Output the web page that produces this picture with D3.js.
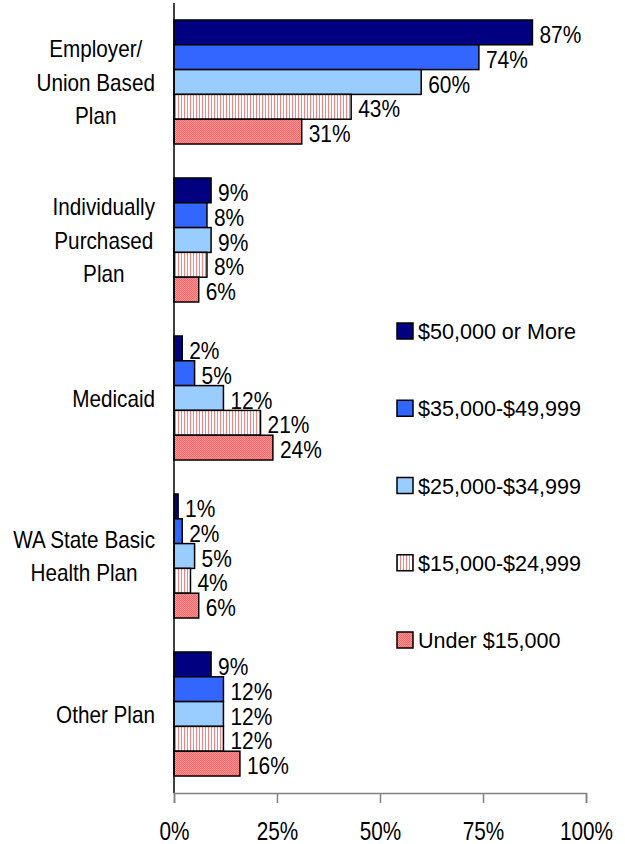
<!DOCTYPE html>
<html><head><meta charset="utf-8">
<script src="https://cdn.jsdelivr.net/npm/d3@7"></script>
<style>
html,body{margin:0;padding:0;background:#fff;}
svg{display:block;}
text{font-family:"Liberation Sans",Arial,sans-serif;fill:#000;}
</style></head>
<body>
<svg id="chart" width="625" height="844"></svg>
<script>
const categories = ["Employer/\nUnion Based\nPlan", "Individually\nPurchased\nPlan", "Medicaid", "WA State Basic\nHealth Plan", "Other Plan"];
const seriesNames = ["$50,000 or More", "$35,000-$49,999", "$25,000-$34,999", "$15,000-$24,999", "Under $15,000"];
const s50kPlus   = [87, 9, 2, 1, 9];
const s35to50k   = [74, 8, 5, 2, 12];
const s25to35k   = [60, 9, 12, 5, 12];
const s15to25k   = [43, 8, 21, 4, 12];
const sUnder15k  = [31, 6, 24, 6, 16];
const seriesValues = [s50kPlus, s35to50k, s25to35k, s15to25k, sUnder15k];
const xTicks = [0, 25, 50, 75, 100];

const svg = d3.select("#chart");
const defs = svg.append("defs");
const p1 = defs.append("pattern").attr("id","stripes").attr("patternUnits","userSpaceOnUse").attr("width",3).attr("height",3);
p1.append("rect").attr("width",3).attr("height",3).attr("fill","#fff");
p1.append("rect").attr("x",1).attr("width",1).attr("height",3).attr("fill","#FF8080");
const p2 = defs.append("pattern").attr("id","checker").attr("patternUnits","userSpaceOnUse").attr("width",2).attr("height",2);
p2.append("rect").attr("width",2).attr("height",2).attr("fill","#FF9999");
p2.append("rect").attr("width",1).attr("height",1).attr("fill","#FF6262");
p2.append("rect").attr("x",1).attr("y",1).attr("width",1).attr("height",1).attr("fill","#FF6262");

const fills = ["#000080", "#3366FF", "#99CCFF", "url(#stripes)", "url(#checker)"];

function ntext(parent, x0, y0, str, size, sx, anchor) {
  return parent.append("text")
    .attr("transform", `translate(${x0},${y0}) scale(${sx},1)`)
    .attr("font-size", size)
    .attr("text-anchor", anchor || "start")
    .text(str);
}

const x = d3.scaleLinear().domain([0, 100]).range([174, 586]);
const y = d3.scaleBand().domain(categories).range([3, 793]).paddingInner(0.215).paddingOuter(0.1075);
const ySub = d3.scaleBand().domain(d3.range(seriesNames.length)).range([0, y.bandwidth()]);

categories.forEach((cat, ci) => {
  const g = svg.append("g").attr("transform", `translate(0,${y(cat)})`);
  seriesValues.forEach((vals, si) => {
    const v = vals[ci];
    g.append("rect")
      .attr("x", x(0)).attr("y", ySub(si))
      .attr("width", x(v) - x(0)).attr("height", ySub.bandwidth())
      .attr("fill", fills[si]).attr("stroke", "#000").attr("stroke-width", 1.5);
    ntext(g, x(v) + 7, ySub(si) + ySub.bandwidth()/2 + 10.5, v + "%", 23, 0.91);
  });
});

svg.append("line").attr("x1", x(0)).attr("x2", x(0)).attr("y1", 3).attr("y2", 793)
  .attr("stroke", "#000").attr("stroke-width", 1.5);

const xAxis = d3.axisBottom(x).tickValues(xTicks).tickSize(10).tickFormat(d => d + "%");
const ax = svg.append("g").attr("transform", "translate(0,793)").call(xAxis);
ax.select(".domain").attr("stroke", "#808080").attr("stroke-width", 1.5);
ax.selectAll(".tick line").attr("stroke", "#808080").attr("stroke-width", 1.5);
ax.selectAll(".tick text").attr("font-size", 25).attr("font-family", null).attr("fill", "#000")
  .attr("dy", null).attr("y", null).attr("transform", "translate(0,47) scale(0.83,1)");

const lineH = 33.5;
categories.forEach(cat => {
  const lines = cat.split("\n");
  const cy = y(cat) + y.bandwidth()/2;
  const t = svg.append("g");
  const sx = 0.9;
  const texts = lines.map((ln, i) => t.append("text")
      .attr("font-size", 23)
      .attr("text-anchor", "middle")
      .attr("data-y", cy + (i - (lines.length-1)/2) * lineH + 8.5)
      .text(ln));
  const w = d3.max(texts, tx => tx.node().getComputedTextLength()) * sx;
  texts.forEach(tx => tx.attr("transform", `translate(${155 - w/2},${tx.attr("data-y")}) scale(${sx},1)`));
});

const legendY = d3.scalePoint().domain(seriesNames).range([331, 640]);
seriesNames.forEach((name, si) => {
  const ly = legendY(name);
  svg.append("rect").attr("x", 397).attr("y", ly - 8).attr("width", 16).attr("height", 16)
    .attr("fill", fills[si]).attr("stroke", "#000").attr("stroke-width", 1.5);
  ntext(svg, 418, ly + 8, name, 22, 0.98);
});
</script>
</body></html>
